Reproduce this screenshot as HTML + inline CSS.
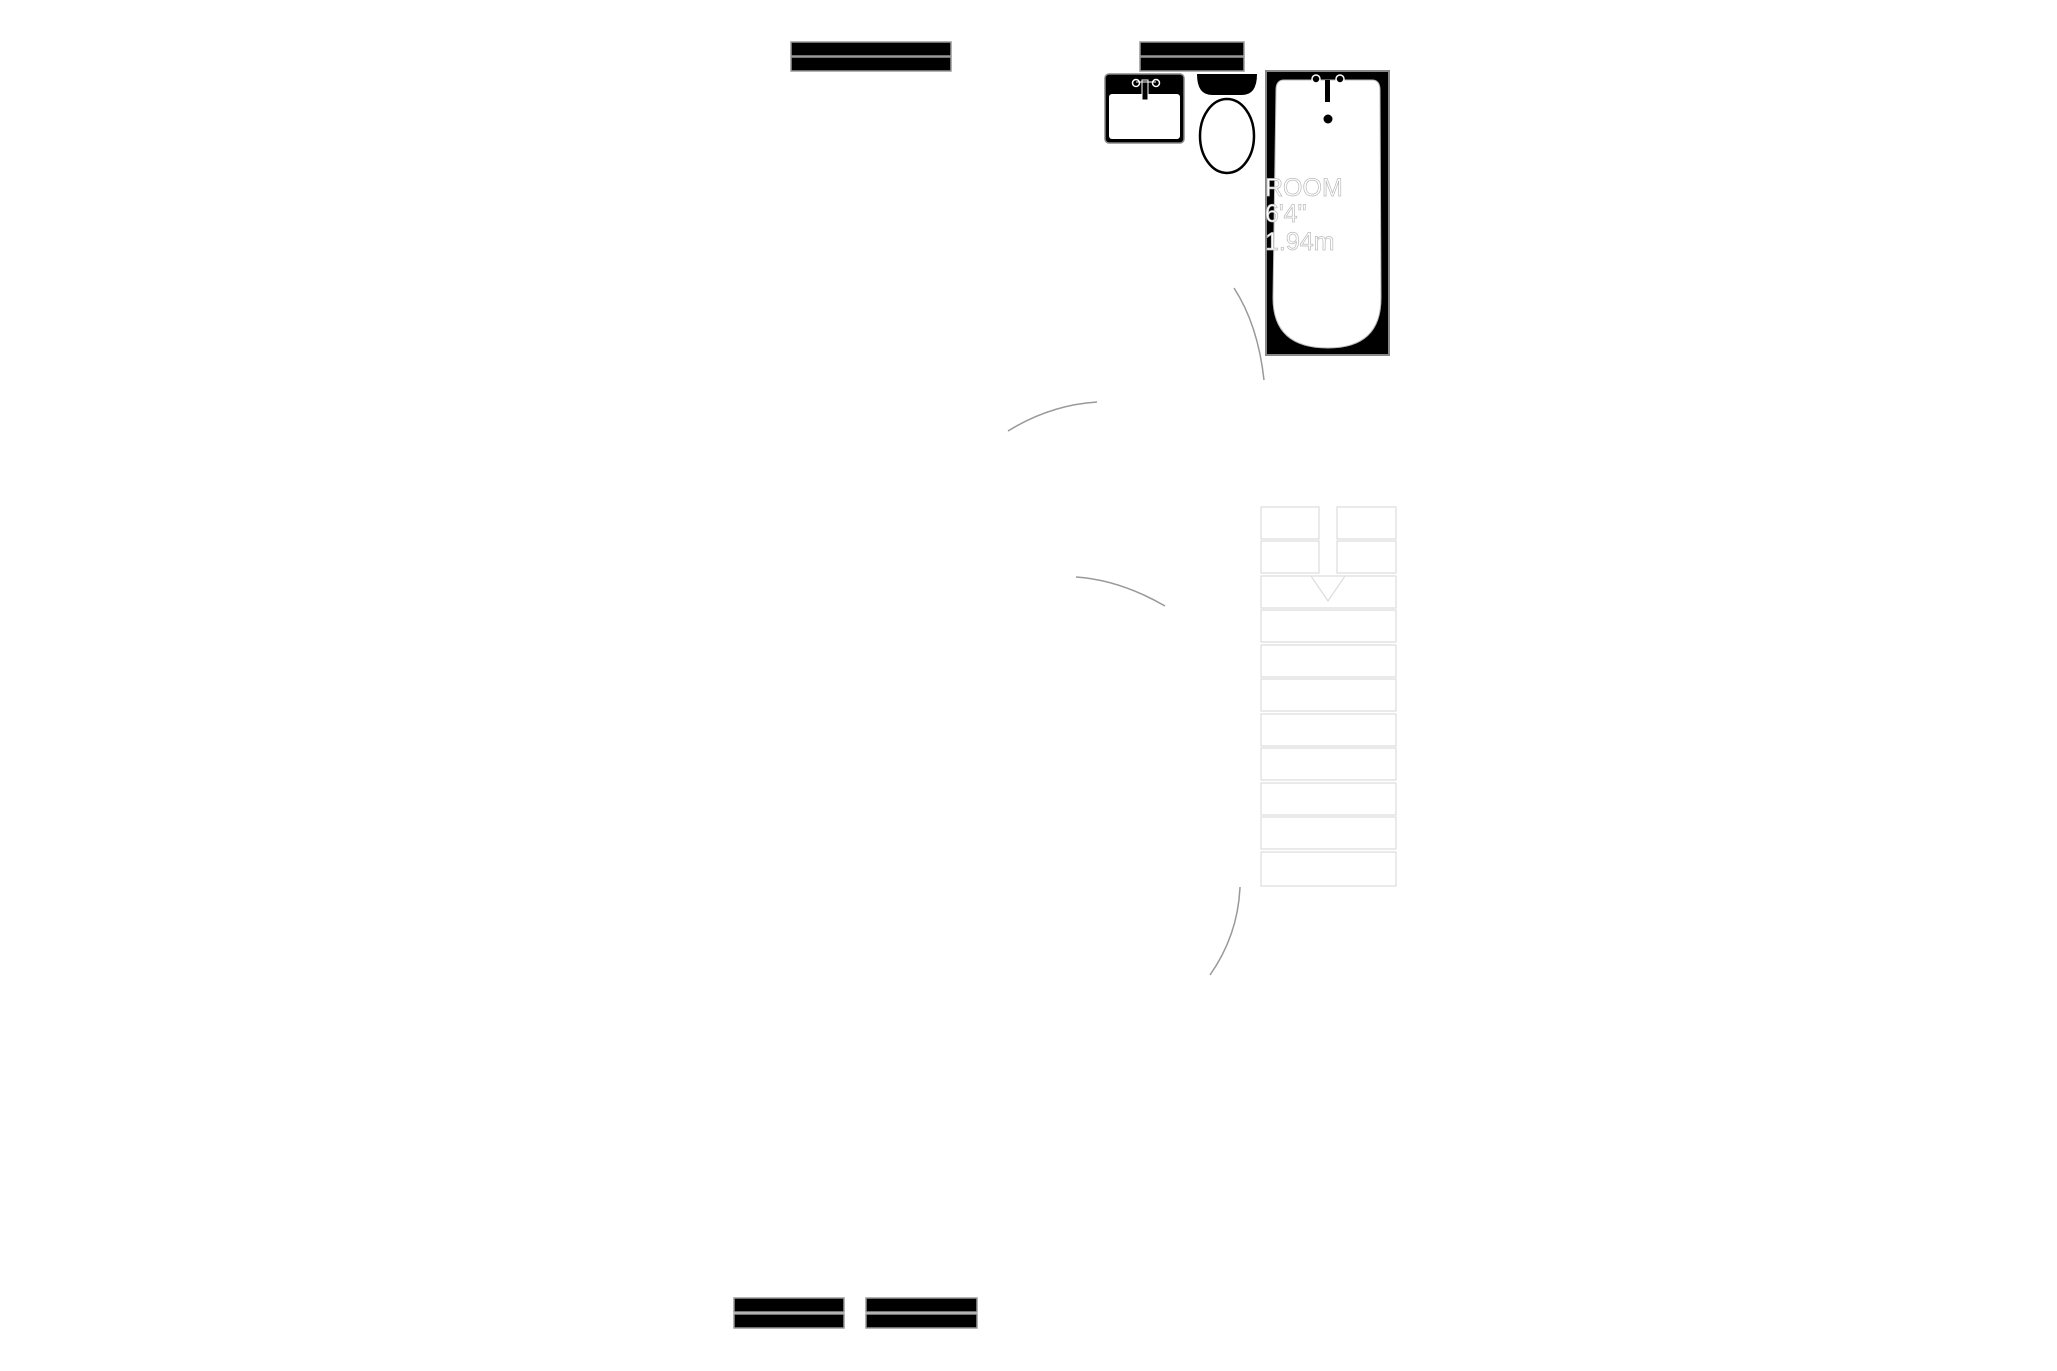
<!DOCTYPE html>
<html><head><meta charset="utf-8"><style>
html,body{margin:0;padding:0;background:#fff;}
svg{display:block;}
</style></head><body>
<svg width="2057" height="1371" viewBox="0 0 2057 1371" xmlns="http://www.w3.org/2000/svg">
<rect width="2057" height="1371" fill="#fff"/>
<!-- windows -->
<g stroke="#999" stroke-width="1.5" fill="#000">
<rect x="791" y="42" width="160" height="14"/><rect x="791" y="57" width="160" height="14"/>
<rect x="1140" y="42" width="104" height="14"/><rect x="1140" y="57" width="104" height="14"/>
<rect x="734" y="1298" width="110" height="14"/><rect x="734" y="1314" width="110" height="14"/>
<rect x="866" y="1298" width="111" height="14"/><rect x="866" y="1314" width="111" height="14"/>
</g>
<!-- sink -->
<rect x="1105" y="74" width="79" height="69" rx="4" fill="#000" stroke="#888" stroke-width="1.5"/>
<rect x="1109" y="94" width="71" height="45" rx="3" fill="#fff"/>
<rect x="1142" y="80" width="6" height="20" fill="#000" stroke="#fff" stroke-width="1"/>
<circle cx="1136" cy="83" r="3.5" fill="#000" stroke="#fff" stroke-width="1.5"/>
<circle cx="1156" cy="83" r="3.5" fill="#000" stroke="#fff" stroke-width="1.5"/>
<line x1="1136" y1="82" x2="1156" y2="82" stroke="#fff" stroke-width="1"/>
<!-- toilet -->
<path d="M1197 74 H1257 Q1257 95 1242 95 H1212 Q1197 95 1197 74 Z" fill="#000"/>
<ellipse cx="1227" cy="136" rx="27" ry="37" fill="#fff" stroke="#000" stroke-width="2.5"/>
<!-- tub -->
<rect x="1266" y="71" width="123" height="284" fill="#000" stroke="#888" stroke-width="2"/>
<path d="M1284 80 H1372 Q1380 80 1380 90 L1381 298 Q1381 348 1328 348 Q1273 348 1273 298 L1276 90 Q1276 80 1284 80 Z" fill="#fff" stroke="#bbb" stroke-width="1"/>
<rect x="1325" y="80" width="5" height="22" fill="#000"/>
<circle cx="1316" cy="79" r="4" fill="#000" stroke="#fff" stroke-width="1.5"/>
<circle cx="1340" cy="79" r="4" fill="#000" stroke="#fff" stroke-width="1.5"/>
<circle cx="1328" cy="119" r="4.5" fill="#000"/>
<g font-family="Liberation Sans, sans-serif" font-size="25" fill="#fff" stroke="#bbb" stroke-width="0.7">
<text x="1265" y="196">ROOM</text>
<text x="1265" y="222">6'4"</text>
<text x="1265" y="250">1.94m</text>
</g>
<!-- door arcs -->
<g fill="none" stroke="#999" stroke-width="1.5">
<path d="M1234 288 Q1258 325 1264 380"/>
<path d="M1008 431 Q1050 405 1097 402"/>
<path d="M1076 577 Q1120 580 1165 606"/>
<path d="M1240 887 Q1238 935 1210 975"/>
</g>
<!-- stairs -->
<g fill="#fff" stroke="#ddd" stroke-width="1.2">
<rect x="1261" y="507" width="58" height="32"/><rect x="1337" y="507" width="59" height="32"/>
<rect x="1261" y="541" width="58" height="32"/><rect x="1337" y="541" width="59" height="32"/>
<rect x="1261" y="576" width="135" height="32"/>
<rect x="1261" y="610" width="135" height="32"/>
<rect x="1261" y="645" width="135" height="32"/>
<rect x="1261" y="679" width="135" height="32"/>
<rect x="1261" y="714" width="135" height="32"/>
<rect x="1261" y="748" width="135" height="32"/>
<rect x="1261" y="783" width="135" height="32"/>
<rect x="1261" y="817" width="135" height="32"/>
<rect x="1261" y="852" width="135" height="34"/>
</g>
<path d="M1311 576 L1328 601 L1345 576" fill="none" stroke="#ddd" stroke-width="1.2"/>
</svg>
</body></html>
